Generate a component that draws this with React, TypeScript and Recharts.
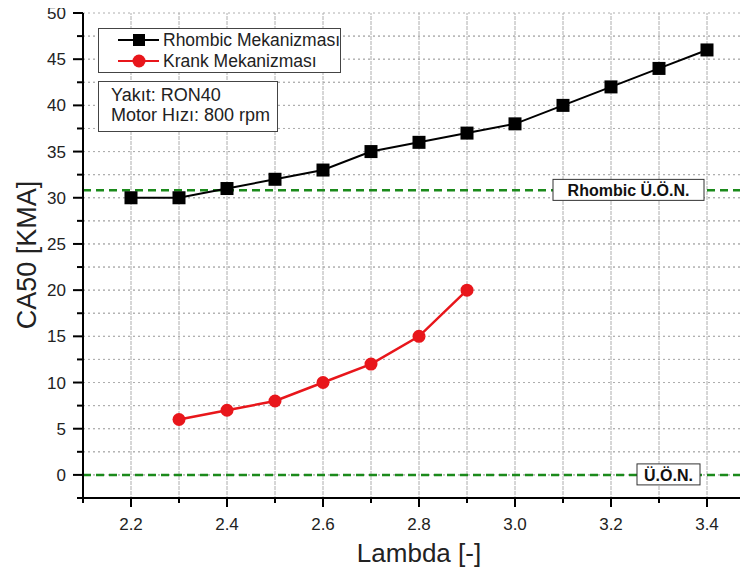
import { LineChart, Line, XAxis, YAxis, ReferenceLine, CartesianGrid } from "recharts";

const lambdaValues = [2.2, 2.3, 2.4, 2.5, 2.6, 2.7, 2.8, 2.9, 3.0, 3.1, 3.2, 3.3, 3.4];
const rhombicCA50 = [30, 30, 31, 32, 33, 35, 36, 37, 38, 40, 42, 44, 46];
const krankCA50 = [null, 6, 7, 8, 10, 12, 15, 20, null, null, null, null, null];

const xTicks = [2.1, 2.2, 2.3, 2.4, 2.5, 2.6, 2.7, 2.8, 2.9, 3.0, 3.1, 3.2, 3.3, 3.4, 3.5];
const yTicks = [-2.5, 0, 2.5, 5, 7.5, 10, 12.5, 15, 17.5, 20, 22.5, 25, 27.5, 30, 32.5, 35, 37.5, 40, 42.5, 45, 47.5, 50];
const topTicks = [1, 2, 3, 4, 5, 6, 7, 8, 9, 10, 11, 12];
const rightTicks = [1, 2, 3, 4];

const uonRhombic = 30.8;
const uonKrank = 0;

const data = lambdaValues.map((l, i) => ({ lambda: l, rhombic: rhombicCA50[i], krank: krankCA50[i] }));

const FONT = "'Liberation Sans', Arial, sans-serif";
const GREEN = "#1b8a1b";
const RED = "#e8161b";
const GRID = "#aeaeae";

// axis ticks drawn by hand so major/minor lengths differ
const BottomTick = (props: any) => {
  const { x, y, payload } = props;
  const v = payload.value as number;
  const major = Math.round(v * 10) % 2 === 0;
  return (
    <g>
      <line x1={x} y1={y} x2={x} y2={y + (major ? 9 : 5)} stroke="#000" strokeWidth={2} />
      {major && (
        <text x={x} y={y + 32} textAnchor="middle" fontSize={17} fill="#222" fontFamily={FONT}>
          {v.toFixed(1)}
        </text>
      )}
    </g>
  );
};

const LeftTick = (props: any) => {
  const { x, y, payload } = props;
  const v = payload.value as number;
  const major = v % 5 === 0;
  return (
    <g>
      <line x1={x} y1={y} x2={x - (major ? 10 : 6)} y2={y} stroke="#000" strokeWidth={2} />
      {major && (
        <text x={x - 17} y={y + 6} textAnchor="end" fontSize={17} fill="#222" fontFamily={FONT}>
          {v}
        </text>
      )}
    </g>
  );
};

const TopTick = (props: any) => {
  const { x, y, payload } = props;
  const major = payload.value % 2 === 0;
  return <line x1={x} y1={y} x2={x} y2={y + (major ? 10 : 6)} stroke="#000" strokeWidth={2} />;
};

const RightTick = (props: any) => {
  const { x, y } = props;
  return <line x1={x} y1={y} x2={x - 10} y2={y} stroke="#000" strokeWidth={2} />;
};

const Square = (props: any) => {
  const { cx, cy, index } = props;
  if (cx == null || cy == null) return <g key={index} />;
  return <rect key={index} x={cx - 6.5} y={cy - 6.5} width={13} height={13} fill="#000" />;
};

const boxLabel = (text: string, boxWidth: number, fromRight: number) => (props: any) => {
  const vb = props.viewBox;
  const right = vb.x + vb.width - fromRight;
  return (
    <g>
      <rect x={right - boxWidth} y={vb.y - 11} width={boxWidth} height={21} fill="#fff" stroke="#333" strokeWidth={1} />
      <text x={right - boxWidth / 2} y={vb.y + 6} textAnchor="middle" fontSize={16} fontWeight="bold" fill="#111" fontFamily={FONT}>
        {text}
      </text>
    </g>
  );
};

export default function App() {
  return (
    <div style={{ position: "relative", width: 740, height: 571, marginTop: -8, overflow: "hidden", fontFamily: FONT }}>
      <LineChart width={760} height={571} data={data} margin={{ top: 13, right: 13, left: 0, bottom: 0 }}>
        <CartesianGrid
          xAxisId="bottom"
          yAxisId="left"
          stroke={GRID}
          strokeWidth={1}
          strokeDasharray="2 3"
          horizontal
          vertical
        />
        <XAxis
          xAxisId="bottom"
          dataKey="lambda"
          type="number"
          domain={[2.1, 3.5]}
          ticks={xTicks}
          interval={0}
          height={73}
          tickSize={0}
          tickMargin={0}
          tickLine={false}
          tick={BottomTick}
          axisLine={{ stroke: "#000", strokeWidth: 2 }}
          label={{
            content: () => (
              <text x={411} y={562} textAnchor="middle" fontSize={26} fill="#222" fontFamily={FONT}>
                Lambda [-]
              </text>
            ),
          }}
        />
        <XAxis
          xAxisId="top"
          orientation="top"
          type="number"
          domain={[0, 12.78]}
          ticks={topTicks}
          interval={0}
          height={0}
          tickSize={0}
          tickMargin={0}
          tickLine={false}
          tick={TopTick}
          axisLine={{ stroke: "#000", strokeWidth: 2 }}
        />
        <YAxis
          yAxisId="left"
          type="number"
          domain={[-2.5, 50]}
          ticks={yTicks}
          interval={0}
          width={75}
          tickSize={0}
          tickMargin={0}
          tickLine={false}
          tick={LeftTick}
          axisLine={{ stroke: "#000", strokeWidth: 2 }}
          label={{
            content: () => (
              <text
                x={19}
                y={255}
                transform="rotate(-90 19 255)"
                textAnchor="middle"
                dominantBaseline="central"
                fontSize={27}
                fill="#222"
                fontFamily={FONT}
              >
                CA50 [KMA]
              </text>
            ),
          }}
        />
        <YAxis
          yAxisId="right"
          orientation="right"
          type="number"
          domain={[0, 5]}
          ticks={rightTicks}
          interval={0}
          width={0}
          tickSize={0}
          tickMargin={0}
          tickLine={false}
          tick={RightTick}
          axisLine={{ stroke: "#000", strokeWidth: 2 }}
        />

        {/* dotted grid at every tick, as reference lines as well */}
        {xTicks.slice(1, -1).map((t) => (
          <ReferenceLine key={"gx" + t} xAxisId="bottom" yAxisId="left" x={t} stroke={GRID} strokeWidth={1} strokeDasharray="2 3" />
        ))}
        {yTicks.slice(1, -1).map((t) => (
          <ReferenceLine key={"gy" + t} xAxisId="bottom" yAxisId="left" y={t} stroke={GRID} strokeWidth={1} strokeDasharray="2 3" />
        ))}

        <ReferenceLine
          xAxisId="bottom"
          yAxisId="left"
          y={uonRhombic}
          stroke={GREEN}
          strokeWidth={2.5}
          strokeDasharray="8 5"
          label={{ content: boxLabel("Rhombic Ü.Ö.N.", 151, 51) }}
        />
        <ReferenceLine
          xAxisId="bottom"
          yAxisId="left"
          y={uonKrank}
          stroke={GREEN}
          strokeWidth={2.5}
          strokeDasharray="8 5"
          label={{ content: boxLabel("Ü.Ö.N.", 63, 55) }}
        />
        <Line
          xAxisId="bottom"
          yAxisId="left"
          dataKey="rhombic"
          stroke="#000"
          strokeWidth={2}
          dot={Square}
          isAnimationActive={false}
        />
        <Line
          xAxisId="bottom"
          yAxisId="left"
          dataKey="krank"
          stroke={RED}
          strokeWidth={2.5}
          dot={{ r: 6.5, fill: RED, stroke: RED, strokeWidth: 0 }}
          isAnimationActive={false}
        />
      </LineChart>

      {/* legend */}
      <div
        style={{
          position: "absolute",
          left: 90,
          top: 28,
          width: 241,
          height: 43,
          border: "1px solid #444",
          background: "#fff",
          fontSize: 17.5,
          color: "#222",
          whiteSpace: "nowrap",
        }}
      >
        {[
          { name: "Rhombic Mekanizması", color: "#000", square: true },
          { name: "Krank Mekanizması", color: RED, square: false },
        ].map((s) => (
          <div key={s.name} style={{ display: "flex", alignItems: "center", height: 20, marginTop: 1 }}>
            <svg width={50} height={20} style={{ marginLeft: 14, flexShrink: 0 }}>
              <line x1={5} y1={10} x2={46} y2={10} stroke={s.color} strokeWidth={2} />
              {s.square ? (
                <rect x={20} y={4} width={12} height={12} fill={s.color} />
              ) : (
                <circle cx={26} cy={10} r={6.5} fill={s.color} />
              )}
            </svg>
            <span>{s.name}</span>
          </div>
        ))}
      </div>

      {/* info box */}
      <div
        style={{
          position: "absolute",
          left: 90,
          top: 81,
          width: 166,
          height: 43,
          padding: "3px 0 3px 12px",
          border: "1px solid #444",
          background: "#fff",
          fontSize: 18,
          lineHeight: "20px",
          color: "#222",
          whiteSpace: "nowrap",
        }}
      >
        <div>Yakıt: RON40</div>
        <div>Motor Hızı: 800 rpm</div>
      </div>
    </div>
  );
}
